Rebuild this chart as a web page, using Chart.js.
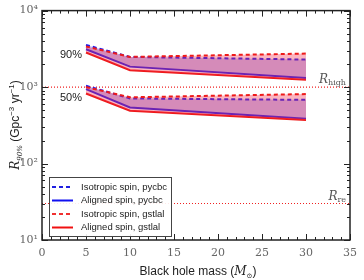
<!DOCTYPE html>
<html>
<head>
<meta charset="utf-8">
<script src="https://cdn.jsdelivr.net/npm/chart.js@4/dist/chart.umd.min.js"></script>
<style>
  html, body { margin: 0; padding: 0; background: #fff; }
  #wrap { width: 364px; height: 280px; }
</style>
</head>
<body>
<div id="wrap"><canvas id="c" width="364" height="280"></canvas></div>
<script>
// black hole masses (solar masses)
const masses = [5, 10, 30];

// 90% upper limits on rate
const iso90Pycbc = [3550, 2480, 2290];
const ali90Pycbc = [3120, 1850, 1310];
const iso90Gstlal = [3400, 2480, 2740];
const ali90Gstlal = [2830, 1660, 1250];

// 50% upper limits on rate
const iso50Pycbc = [1040, 710, 680];
const ali50Pycbc = [940, 540, 385];
const iso50Gstlal = [1000, 735, 810];
const ali50Gstlal = [825, 490, 372];

// reference rates
const rHigh = 1000;
const rRe = 30;

const xTicks = [0, 5, 10, 15, 20, 25, 30, 35];
const yTicks = [10, 100, 1000, 10000];
const supers = { 1: "¹", 2: "²", 3: "³", 4: "⁴" };

const legendItems = [
  { label: "Isotropic spin, pycbc", color: "#2020e0", dash: [4, 3] },
  { label: "Aligned spin, pycbc", color: "#1010f0", dash: [] },
  { label: "Isotropic spin, gstlal", color: "#f03030", dash: [4, 3] },
  { label: "Aligned spin, gstlal", color: "#f01010", dash: [] },
];

const BLUE = "#1a1aee";
const RED = "#ee1a1a";
const BLUE_FILL = "rgba(60,40,220,0.30)";
const RED_FILL = "rgba(245,50,80,0.36)";

function pts(ys) {
  return masses.map((m, i) => ({ x: m, y: ys[i] }));
}

function group(iso_p, ali_p, iso_g, ali_g) {
  return [
    { data: pts(iso_g), borderColor: RED, borderDash: [4, 3], borderWidth: 2, fill: "+1", backgroundColor: RED_FILL },
    { data: pts(ali_g), borderColor: RED, borderWidth: 2, fill: false },
    { data: pts(iso_p), borderColor: BLUE, borderDash: [4, 3], borderWidth: 2, fill: "+1", backgroundColor: BLUE_FILL },
    { data: pts(ali_p), borderColor: BLUE, borderWidth: 2, fill: false },
  ];
}

function hline(v) {
  return {
    data: [{ x: 0, y: v }, { x: 35, y: v }],
    borderColor: "#f02020", borderWidth: 1.2, borderDash: [1, 2], fill: false,
  };
}

// ticks inside on all sides, frame, labels, legend
const decor = {
  id: "decor",
  afterDatasetsDraw(chart) {
    const { ctx, chartArea: a, scales } = chart;
    const xs = scales.x, ys = scales.y;
    ctx.save();
    ctx.strokeStyle = "#222";
    ctx.lineWidth = 1;
    ctx.beginPath();
    for (let v = 0; v <= 35; v++) {
      const px = Math.round(xs.getPixelForValue(v)) + 0.5;
      const len = v % 5 === 0 ? 6 : 3;
      ctx.moveTo(px, a.bottom); ctx.lineTo(px, a.bottom - len);
      ctx.moveTo(px, a.top); ctx.lineTo(px, a.top + len);
    }
    for (let d = 1; d < 4; d++) {
      for (let k = 1; k <= 10; k++) {
        const v = k * Math.pow(10, d);
        const py = Math.round(ys.getPixelForValue(v)) + 0.5;
        const len = k === 1 || k === 10 ? 6 : 3;
        ctx.moveTo(a.left, py); ctx.lineTo(a.left + len, py);
        ctx.moveTo(a.right, py); ctx.lineTo(a.right - len, py);
      }
    }
    ctx.stroke();
    ctx.lineWidth = 1.5;
    ctx.strokeRect(a.left, a.top, a.right - a.left, a.bottom - a.top);

    // percent labels
    ctx.fillStyle = "#222";
    ctx.font = "11px 'Liberation Sans', Arial, sans-serif";
    ctx.textBaseline = "middle";
    ctx.textAlign = "left";
    ctx.fillText("90%", 60, ys.getPixelForValue(2600));
    ctx.fillText("50%", 60, ys.getPixelForValue(720));

    // reference line labels
    ctx.fillStyle = "#555";
    ctx.textAlign = "right";
    ctx.textBaseline = "alphabetic";
    let yh = ys.getPixelForValue(rHigh) - 4;
    ctx.font = "8px 'DejaVu Serif', serif";
    const wsub = ctx.measureText("high").width;
    ctx.fillText("high", 346, yh + 2);
    ctx.font = "italic 12px 'DejaVu Serif', serif";
    ctx.fillText("R", 346 - wsub, yh);
    let yr = ys.getPixelForValue(rRe) - 4;
    ctx.font = "8px 'DejaVu Serif', serif";
    const wre = ctx.measureText("re").width;
    ctx.fillText("re", 346, yr + 2);
    ctx.font = "italic 12px 'DejaVu Serif', serif";
    ctx.fillText("R", 346 - wre, yr);

    // legend
    ctx.fillStyle = "rgba(255,255,255,0.9)";
    ctx.fillRect(49, 177, 122, 59);
    ctx.strokeStyle = "#444";
    ctx.lineWidth = 1;
    ctx.strokeRect(49.5, 177.5, 122, 59);
    ctx.font = "9.5px 'Liberation Sans', Arial, sans-serif";
    ctx.textAlign = "left";
    ctx.textBaseline = "middle";
    legendItems.forEach((it, i) => {
      const y = 187 + i * 13.5;
      ctx.beginPath();
      ctx.strokeStyle = it.color;
      ctx.lineWidth = 2;
      ctx.setLineDash(it.dash);
      ctx.moveTo(52, y); ctx.lineTo(73, y);
      ctx.stroke();
      ctx.setLineDash([]);
      ctx.fillStyle = "#222";
      ctx.fillText(it.label, 81, y);
    });

    // axis titles
    ctx.fillStyle = "#222";
    ctx.textAlign = "left";
    ctx.textBaseline = "alphabetic";
    const t1 = "Black hole mass (";
    ctx.font = "12px 'Liberation Sans', Arial, sans-serif";
    const w1 = ctx.measureText(t1).width;
    ctx.font = "italic 12px 'DejaVu Serif', serif";
    const wM = ctx.measureText("M").width;
    ctx.font = "7px 'DejaVu Serif', serif";
    const wS = ctx.measureText("⊙").width;
    ctx.font = "12px 'Liberation Sans', Arial, sans-serif";
    const w2 = ctx.measureText(")").width;
    let x0 = 198 - (w1 + wM + wS + w2) / 2;
    const yt = 275;
    ctx.fillText(t1, x0, yt); x0 += w1;
    ctx.font = "italic 12px 'DejaVu Serif', serif";
    ctx.fillText("M", x0, yt); x0 += wM;
    ctx.font = "7px 'DejaVu Serif', serif";
    ctx.fillText("⊙", x0, yt + 3); x0 += wS;
    ctx.font = "12px 'Liberation Sans', Arial, sans-serif";
    ctx.fillText(")", x0, yt);

    ctx.translate(15, 125);
    ctx.rotate(-Math.PI / 2);
    const parts = [
      { t: "R", f: "italic 12px 'DejaVu Serif', serif", dy: 0 },
      { t: "90%", f: "italic 7px 'DejaVu Serif', serif", dy: 3 },
      { t: " (Gpc", f: "12px 'Liberation Sans', Arial, sans-serif", dy: 0 },
      { t: "−3", f: "8px 'Liberation Sans', Arial, sans-serif", dy: -5 },
      { t: " yr", f: "12px 'Liberation Sans', Arial, sans-serif", dy: 0 },
      { t: "−1", f: "8px 'Liberation Sans', Arial, sans-serif", dy: -5 },
      { t: ")", f: "12px 'Liberation Sans', Arial, sans-serif", dy: 0 },
    ];
    let tw = 0;
    parts.forEach((p) => { ctx.font = p.f; p.w = ctx.measureText(p.t).width; tw += p.w; });
    let xx = -tw / 2;
    parts.forEach((p) => { ctx.font = p.f; ctx.fillText(p.t, xx, 4 + p.dy); xx += p.w; });
    ctx.restore();
  },
};

new Chart(document.getElementById("c"), {
  type: "line",
  data: {
    datasets: [
      ...group(iso90Pycbc, ali90Pycbc, iso90Gstlal, ali90Gstlal),
      ...group(iso50Pycbc, ali50Pycbc, iso50Gstlal, ali50Gstlal),
      hline(rHigh),
      hline(rRe),
    ],
  },
  options: {
    responsive: false,
    animation: false,
    layout: { padding: { top: 10, right: 11, left: 0, bottom: 0 } },
    elements: { point: { radius: 0 }, line: { tension: 0 } },
    plugins: { legend: { display: false }, tooltip: { enabled: false }, filler: { propagate: false } },
    scales: {
      x: {
        type: "linear", min: 0, max: 35,
        afterBuildTicks: (s) => { s.ticks = xTicks.map((v) => ({ value: v })); },
        afterFit: (s) => { s.height = 40; },
        grid: { display: false, drawTicks: false },
        border: { display: false },
        ticks: { color: "#666", padding: 7, font: { family: "'DejaVu Serif', serif", size: 11 } },
      },
      y: {
        type: "logarithmic", min: 10, max: 10000,
        afterBuildTicks: (s) => { s.ticks = yTicks.map((v) => ({ value: v })); },
        afterFit: (s) => { s.width = 42; },
        grid: { display: false, drawTicks: false },
        border: { display: false },
        ticks: {
          color: "#666", padding: 4,
          font: { family: "'DejaVu Serif', serif", size: 11 },
          callback: (v) => "10" + supers[Math.round(Math.log10(v))],
        },
      },
    },
  },
  plugins: [decor],
});
</script>
</body>
</html>
